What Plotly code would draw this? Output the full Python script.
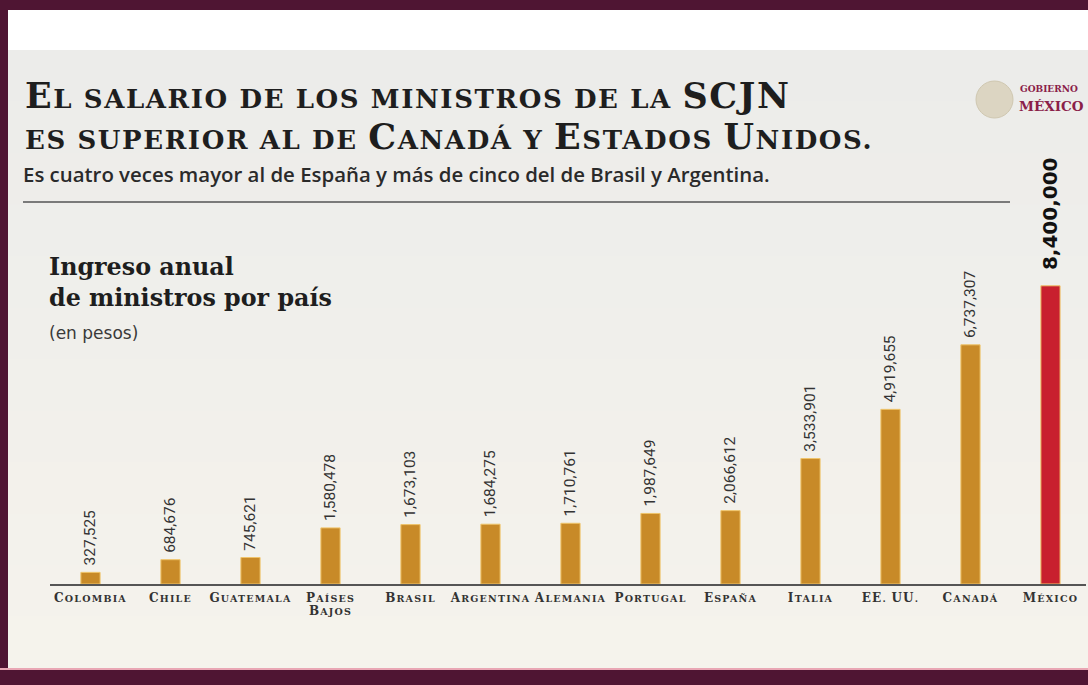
import plotly.graph_objects as go

categories = ["Colombia", "Chile", "Guatemala", "Países Bajos", "Brasil", "Argentina",
              "Alemania", "Portugal", "España", "Italia", "EE. UU.", "Canadá", "México"]
values = [327525, 684676, 745621, 1580478, 1673103, 1684275, 1710761,
          1987649, 2066612, 3533901, 4919655, 6737307, 8400000]
tick_words = ["COLOMBIA", "CHILE", "GUATEMALA", "PAÍSES|BAJOS", "BRASIL", "ARGENTINA",
              "ALEMANIA", "PORTUGAL", "ESPAÑA", "ITALIA", "EE. UU.", "CANADÁ", "MÉXICO"]

W, H = 1088, 685
L, R, T, B = 50, 2, 158, 101
PW, PH = W - L - R, H - T - B


def px(x):
    return (x - L) / PW


def py(y):
    return (H - B - y) / PH


def sc(word, big=12, small=9.5, ls=1.2):
    """Small-caps style label: first letter of each word is larger."""
    out = []
    for part in word.split("|"):
        s = ""
        first = True
        for ch in part:
            if ch == " ":
                s += ch
                first = True
                continue
            if (first or "." in part) and ch.isalpha():
                s += f'<span style="font-size:{big}px">{ch}</span>'
                first = False
            else:
                s += ch
        out.append(f'<span style="letter-spacing:{ls}px">{s}</span>')
    return "<br>".join(out)


ticktext = [sc(w) for w in tick_words]

gold = "#c88a28"
red = "#c8202e"
colors = [gold] * (len(values) - 1) + [red]
texts = ["\u00a0" + f"{v:,}" for v in values[:-1]] + ["\u00a0\u00a0<b>" + f"{values[-1]:,}" + "</b>"]
tsizes = [15.5] * (len(values) - 1) + [20]
tfam = ["Roboto"] * (len(values) - 1) + ["DejaVu Sans"]
tcol = ["#333333"] * (len(values) - 1) + ["#111111"]

fig = go.Figure()
fig.add_trace(go.Bar(
    x=categories, y=values,
    marker=dict(color=colors, line=dict(color="#efc46a", width=1)),
    width=0.24,
    text=texts, textposition="outside", textangle=-90,
    constraintext="none", cliponaxis=False,
    textfont=dict(size=tsizes, family=tfam, color=tcol),
    hoverinfo="skip",
))

shapes = []
# inner panel with a soft vertical gradient (grey at top, warm cream at bottom)
top_rgb = (236, 236, 234)
bot_rgb = (245, 243, 236)
n = 12
y_start, y_end = 50, 668
for i in range(n):
    t = i / (n - 1)
    c = tuple(round(a + (b - a) * t) for a, b in zip(top_rgb, bot_rgb))
    y0 = y_start + (y_end - y_start) * i / n
    y1 = y_start + (y_end - y_start) * (i + 1) / n
    shapes.append(dict(type="rect", xref="paper", yref="paper", layer="below",
                       x0=px(8), x1=px(1090), y0=py(y1 + 0.5), y1=py(y0),
                       fillcolor="rgb(%d,%d,%d)" % c, line=dict(width=0)))
shapes.append(dict(type="rect", xref="paper", yref="paper", layer="below",
                   x0=px(8), x1=px(1090), y0=py(50), y1=py(10),
                   fillcolor="#ffffff", line=dict(width=0)))
# pink line at bottom of panel
shapes.append(dict(type="line", xref="paper", yref="paper", layer="below",
                   x0=px(0), x1=px(1090), y0=py(669), y1=py(669),
                   line=dict(color="#e9a6b4", width=2)))
# rule under subtitle
shapes.append(dict(type="line", xref="paper", yref="paper",
                   x0=px(23), x1=px(1010), y0=py(202), y1=py(202),
                   line=dict(color="#7a7a7a", width=2)))
# seal
shapes.append(dict(type="circle", xref="paper", yref="paper",
                   x0=px(976), x1=px(1013), y0=py(118), y1=py(81),
                   fillcolor="#dcd5c2", line=dict(color="#cfc7b0", width=1)))

annotations = []
BIG = 'font-size:35px'
LS = 'letter-spacing:1.6px'
title1 = (f'<span style="{LS}"><span style="{BIG}">E</span>L SALARIO DE LOS MINISTROS DE LA '
          f'<span style="{BIG}">SCJN</span></span>')
title2 = (f'<span style="{LS}">ES SUPERIOR AL DE <span style="{BIG}">C</span>ANADÁ Y '
          f'<span style="{BIG}">E</span>STADOS <span style="{BIG}">U</span>NIDOS.</span>')
tfont = dict(family="DejaVu Serif", size=26, color="#1e1e1e", weight="bold")
annotations.append(dict(text=title1, xref="paper", yref="paper", x=px(23), y=py(118),
                        xanchor="left", yanchor="bottom", showarrow=False, font=tfont))
annotations.append(dict(text=title2, xref="paper", yref="paper", x=px(23), y=py(159),
                        xanchor="left", yanchor="bottom", showarrow=False, font=tfont))
annotations.append(dict(text="Es cuatro veces mayor al de España y más de cinco del de Brasil y Argentina.",
                        xref="paper", yref="paper", x=px(21), y=py(174),
                        xanchor="left", yanchor="middle", showarrow=False,
                        font=dict(family="Open Sans", size=20.4, color="#2a2a2a", weight=600)))
annotations.append(dict(text="Ingreso anual<br>de ministros por país",
                        xref="paper", yref="paper", x=px(47), y=py(251),
                        xanchor="left", yanchor="top", showarrow=False, align="left",
                        font=dict(family="DejaVu Serif", size=23.8, color="#1e1e1e", weight="bold")))
annotations.append(dict(text="(en pesos)",
                        xref="paper", yref="paper", x=px(47), y=py(333),
                        xanchor="left", yanchor="middle", showarrow=False,
                        font=dict(family="DejaVu Sans", size=17, color="#3a3a3a")))
annotations.append(dict(text="GOBIERNO", xref="paper", yref="paper", x=px(1018), y=py(89),
                        xanchor="left", yanchor="middle", showarrow=False,
                        font=dict(family="DejaVu Serif", size=9, color="#8a2048", weight="bold")))
annotations.append(dict(text="MÉXICO", xref="paper", yref="paper", x=px(1017), y=py(106),
                        xanchor="left", yanchor="middle", showarrow=False,
                        font=dict(family="DejaVu Serif", size=13.5, color="#8a2048", weight="bold")))

fig.update_layout(
    width=W, height=H,
    margin=dict(l=L, r=R, t=T, b=B),
    paper_bgcolor="#4f1533",
    plot_bgcolor="rgba(0,0,0,0)",
    showlegend=False,
    shapes=shapes,
    annotations=annotations,
    xaxis=dict(
        range=[-0.506, 12.444],
        tickmode="array", tickvals=categories, ticktext=ticktext,
        tickfont=dict(family="DejaVu Serif", size=9.5, color="#333333", weight="bold"),
        showline=True, linecolor="#555555", linewidth=2,
        ticks="", ticklabelstandoff=5, showgrid=False, zeroline=False,
        fixedrange=True,
    ),
    yaxis=dict(range=[0, PH / 35.5 * 1e6], visible=False, fixedrange=True),
)

fig.write_html(
    "out.html",
    config={"displayModeBar": False},
    post_script="document.body.style.margin='0';document.body.style.background='#4f1533';",
)
